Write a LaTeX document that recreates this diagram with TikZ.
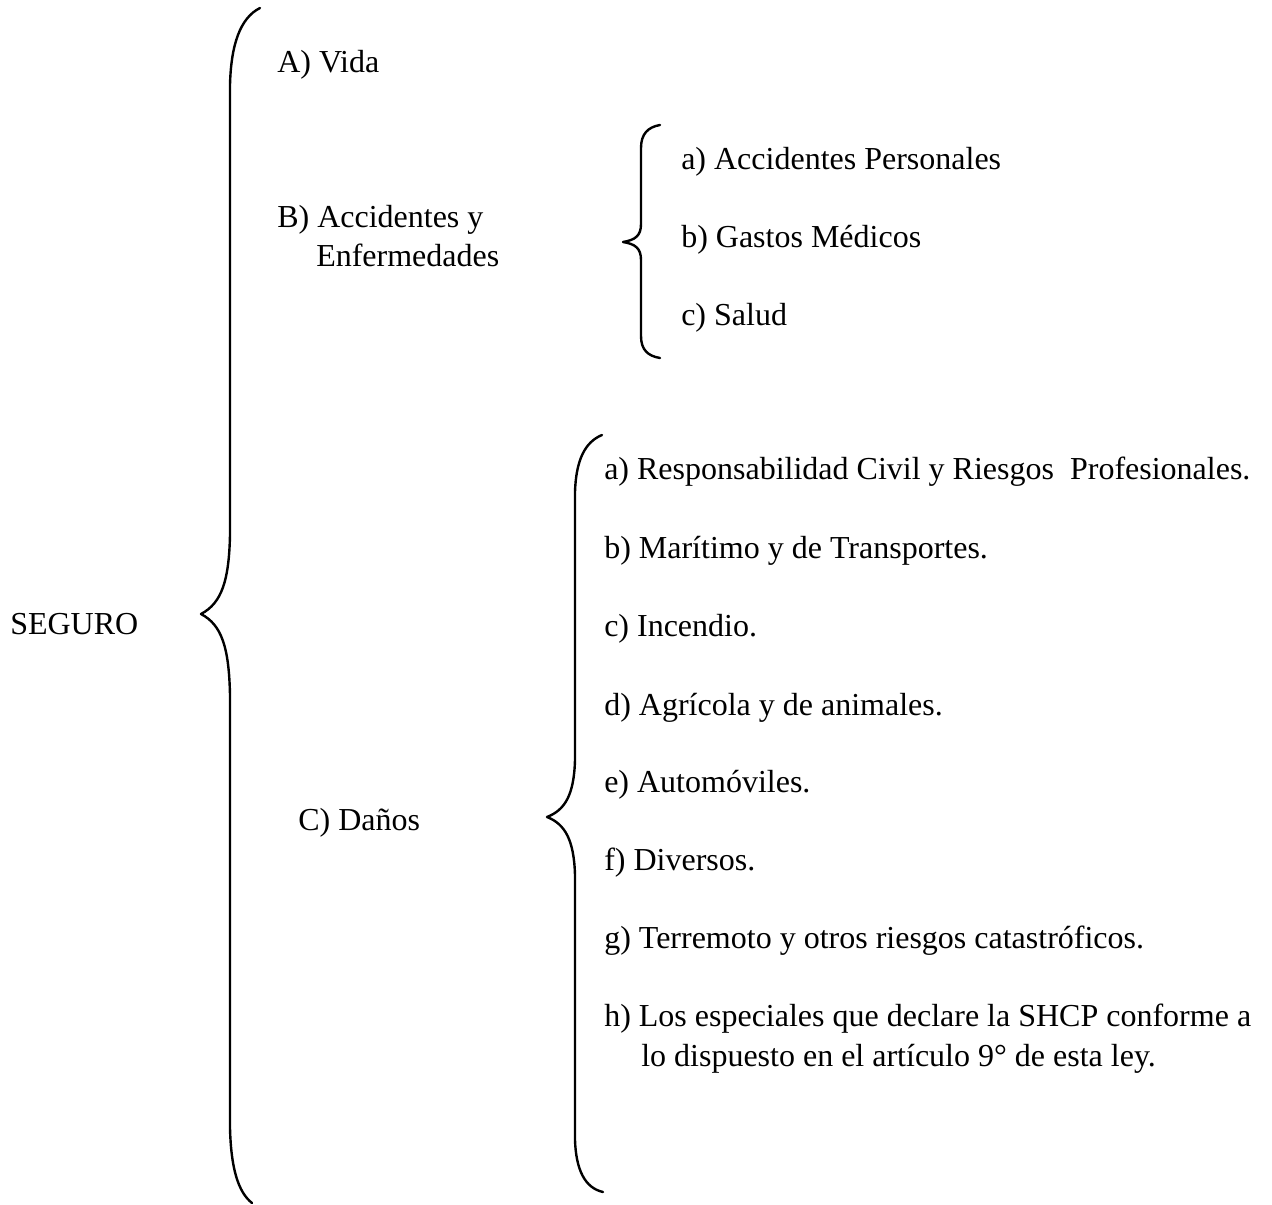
\documentclass[tikz,border=0pt]{standalone}
\usepackage{fontspec}
\setmainfont{Liberation Serif}
\begin{document}
\begin{tikzpicture}[x=0.75pt,y=-0.75pt,
  lbl/.style={anchor=base west,inner sep=0pt,font=\fontsize{24}{28}\selectfont},
  brace/.style={line width=1.8pt,line cap=round,line join=round}]
\useasboundingbox (0,0) rectangle (1272,1205);
% texts
\node[lbl] (seguro) at (10,634) {SEGURO};
\node[lbl] (vida) at (277,73) {A) Vida};
\node[lbl] (acc1) at (277,228) {B) Accidentes y};
\node[lbl] (acc2) at (316,267) {Enfermedades};
\node[lbl] (danos) at (298,830) {C) Da\~nos};
\node[lbl] (ba) at (681,170) {a) Accidentes Personales};
\node[lbl] (bb) at (681,248) {b) Gastos M\'edicos};
\node[lbl] (bc) at (681,326) {c) Salud};
\node[lbl] (ca) at (604,480) {a) Responsabilidad Civil y Riesgos\ \ Profesionales.};
\node[lbl] (cb) at (604,559) {b) Mar\'{\i}timo y de Transportes.};
\node[lbl] (cc) at (604,637) {c) Incendio.};
\node[lbl] (cd) at (604,715) {d) Agr\'{\i}cola y de animales.};
\node[lbl] (ce) at (604,792) {e) Autom\'oviles.};
\node[lbl] (cf) at (604,870) {f) Diversos.};
\node[lbl] (cg) at (604,948) {g) Terremoto y otros riesgos catastr\'oficos.};
\node[lbl] (ch1) at (604,1026) {h) Los especiales que declare la SHCP conforme a};
\node[lbl] (ch2) at (641,1066) {lo dispuesto en el art\'{\i}culo 9\textdegree{} de esta ley.};
% braces
\coordinate (bigtip) at (201,614);
\coordinate (btip) at (623,242);
\coordinate (ctip) at (547,817);
\draw[brace] (260,8) .. controls (240,18) and (231,45) .. (230,85) -- (230,535)
  .. controls (229,580) and (222,603) .. (bigtip)
  .. controls (222,625) and (229,648) .. (230,695) -- (230,1128)
  .. controls (231,1168) and (238,1192) .. (252,1203);
\draw[brace] (660,125) .. controls (648,127) and (641,134) .. (641,148) -- (641,224)
  .. controls (641,236) and (635,240) .. (btip)
  .. controls (635,244) and (641,248) .. (641,260) -- (641,336)
  .. controls (641,350) and (648,356) .. (660,358);
\draw[brace] (602,435) .. controls (585,442) and (576,460) .. (575,492) -- (575,760)
  .. controls (574,795) and (565,810) .. (ctip)
  .. controls (565,824) and (574,840) .. (575,875) -- (575,1140)
  .. controls (576,1170) and (585,1188) .. (603,1192);
\end{tikzpicture}
\end{document}
